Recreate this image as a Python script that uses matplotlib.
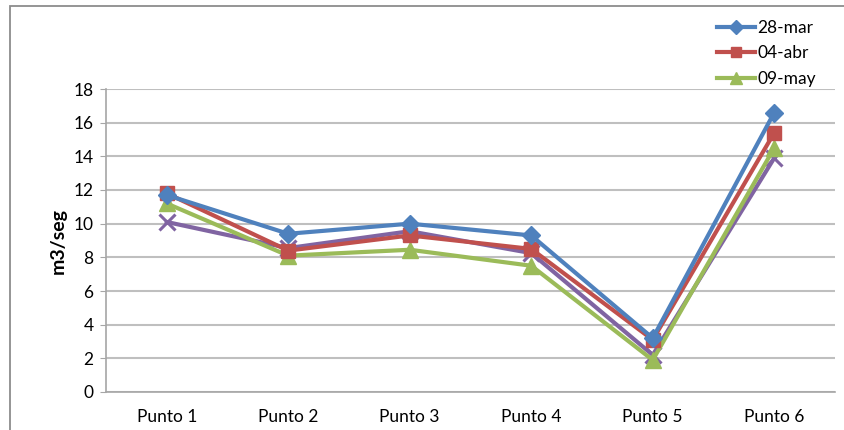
import matplotlib
matplotlib.use('Agg')
import matplotlib.pyplot as plt
from matplotlib.patches import Rectangle
from matplotlib import rcParams

rcParams['font.family'] = ['Lato', 'DejaVu Sans']
rcParams['font.size'] = 11

# Datos
puntos = ['Punto 1', 'Punto 2', 'Punto 3', 'Punto 4', 'Punto 5', 'Punto 6']
fechas = ['28-mar', '04-abr', '09-may']
caudal_28mar = [11.7, 9.4, 10.0, 9.3, 3.2, 16.6]
caudal_04abr = [11.8, 8.4, 9.3, 8.5, 3.1, 15.4]
caudal_09may = [11.2, 8.1, 8.45, 7.5, 1.9, 14.5]
caudal_serie4 = [10.1, 8.55, 9.55, 8.25, 2.2, 13.9]
y_ticks = list(range(0, 19, 2))

# Estilo (colores tipo Excel 2007)
AZUL = '#4F81BD'
ROJO = '#C0504D'
VERDE = '#9BBB59'
MORADO = '#8064A2'
GRID = '#BFBFBF'
LW = 3.0

fig = plt.figure(figsize=(8.45, 4.30), dpi=100)
ax = fig.add_axes([106 / 845, 38 / 430, 729 / 845, 303 / 430])

x = list(range(len(puntos)))

# Serie sin entrada de leyenda visible (se dibuja debajo)
ax.plot(x, caudal_serie4, color=MORADO, lw=LW, marker='x', markersize=11,
        markeredgewidth=2.2, zorder=3)
l3, = ax.plot(x, caudal_09may, color=VERDE, lw=LW, marker='^', markersize=11,
              zorder=4, label=fechas[2])
l2, = ax.plot(x, caudal_04abr, color=ROJO, lw=LW, marker='s', markersize=10,
              zorder=5, label=fechas[1])
l1, = ax.plot(x, caudal_28mar, color=AZUL, lw=LW, marker='D', markersize=9,
              zorder=6, label=fechas[0])

ax.set_xlim(-0.5, len(puntos) - 0.5)
ax.set_ylim(0, 18)
ax.set_yticks(y_ticks)
ax.set_xticks(x)
ax.set_xticklabels(puntos)
ax.yaxis.grid(True, color=GRID, lw=1.5)
ax.set_axisbelow(True)

for s in ['top', 'right']:
    ax.spines[s].set_visible(False)
for s in ['left', 'bottom']:
    ax.spines[s].set_color('#A6A6A6')
    ax.spines[s].set_linewidth(1.2)

ax.tick_params(axis='y', length=4, color='#A6A6A6', labelsize=12.5, pad=5)
ax.tick_params(axis='x', length=0, labelsize=12.5, pad=12)
ax.set_ylabel('m3/seg', fontsize=14, fontweight='bold', labelpad=5)

# Leyenda arriba a la derecha, sin marco
leg = fig.legend(handles=[l1, l2, l3], loc='upper left',
                 bbox_to_anchor=(708 / 845, 1 - 11 / 430), frameon=False,
                 fontsize=12.5, handlelength=2.2, handletextpad=0.15,
                 labelspacing=0.55, borderpad=0.0, markerscale=0.75)

# Marco exterior del gráfico
fig.add_artist(Rectangle((10 / 845, -0.2), 1.2, 1.2 - 6 / 430,
                         transform=fig.transFigure, fill=False,
                         edgecolor='#8C8C8C', lw=1.3))

fig.savefig('out.png', dpi=100)
